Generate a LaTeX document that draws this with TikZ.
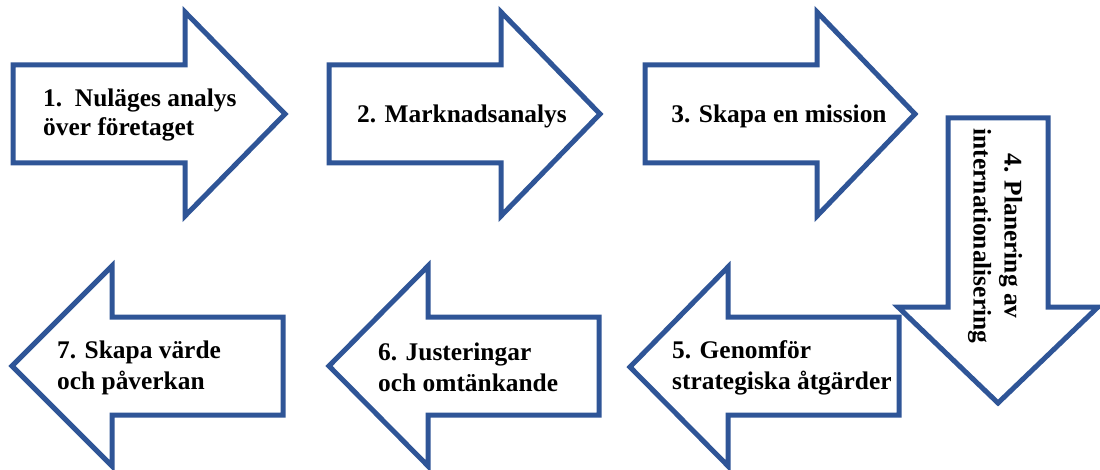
\documentclass[tikz,border=0pt]{standalone}
\usepackage{fontspec}
\setmainfont{Liberation Serif}
\usepackage{tikz}
\usetikzlibrary{positioning}
\definecolor{arrowblue}{RGB}{47,85,151}

\begin{document}
\begin{tikzpicture}[
  x=1pt, y=-1pt,
  arrowbox/.style={draw=arrowblue, line width=5pt, fill=white, line join=miter},
  lbl/.style={font=\fontsize{25.4}{31}\selectfont\bfseries, align=left, inner sep=0pt}
]
  \useasboundingbox (0,0) rectangle (1100,470);

  % Top row, pointing right
  \draw[arrowbox] (13,65) -- (185,65) -- (185,12) -- (285,114) -- (185,216) -- (185,163) -- (13,163) -- cycle;
  \draw[arrowbox] (329,65) -- (501,65) -- (501,12) -- (600,114) -- (501,216) -- (501,163) -- (329,163) -- cycle;
  \draw[arrowbox] (645,65) -- (817,65) -- (817,12) -- (915,114) -- (817,216) -- (817,163) -- (645,163) -- cycle;

  % Right side, pointing down
  \draw[arrowbox] (948,118) -- (1048,118) -- (1048,307) -- (1098,307) -- (998,403) -- (898,307) -- (948,307) -- cycle;

  % Bottom row, pointing left
  \draw[arrowbox] (899,317) -- (728,317) -- (728,267) -- (630,367) -- (728,466) -- (728,415) -- (899,415) -- cycle;
  \draw[arrowbox] (599,317) -- (428,317) -- (428,266) -- (329,366) -- (428,466) -- (428,415) -- (599,415) -- cycle;
  \draw[arrowbox] (283,317) -- (112,317) -- (112,266) -- (12,366) -- (112,466) -- (112,415) -- (283,415) -- cycle;

  % Labels
  \node[lbl, anchor=west] (t1) at (43,115) {1.\ \ Nuläges analys\\[-2pt]över företaget};
  \node[lbl] (t2) at (462,116) {2. Marknadsanalys};
  \node[lbl] (t3) at (779,116) {3. Skapa en mission};
  \node[lbl, align=center, rotate=-90] (t4) at (995,236) {4. Planering av\\internationalisering};
  \node[lbl, anchor=west] (t5) at (672,368) {5. Genomför\\strategiska åtgärder};
  \node[lbl, anchor=west] (t6) at (378,367) {6. Justeringar\\och omtänkande};
  \node[lbl, anchor=west] (t7) at (57,368) {7. Skapa värde\\och påverkan};
\end{tikzpicture}
\end{document}
